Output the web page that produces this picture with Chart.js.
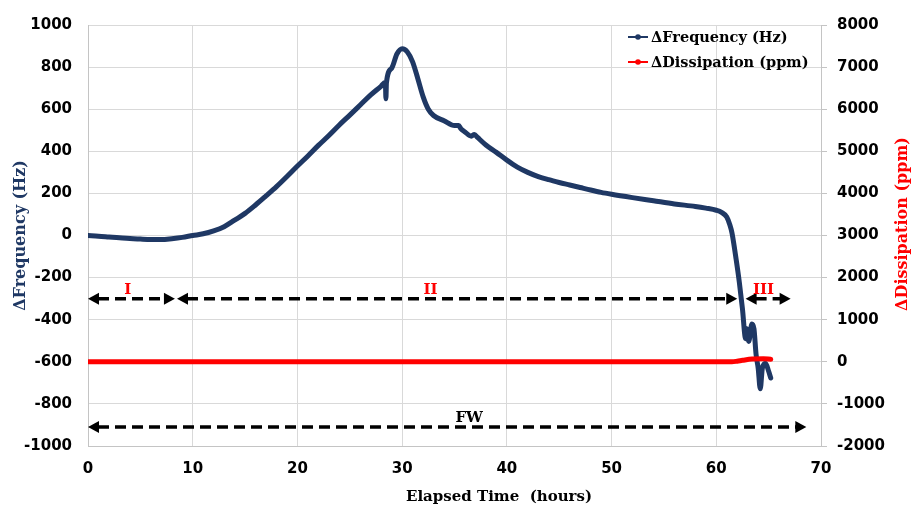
<!DOCTYPE html>
<html lang="en">
<head>
    <meta charset="UTF-8">
    <title>QCM Frequency and Dissipation</title>
    <script src="https://cdn.jsdelivr.net/npm/chart.js"></script>
    <style>
        html, body { margin: 0; padding: 0; background: #fff; }
        #wrap { width: 914px; height: 509px; }
    </style>
</head>
<body>
<div id="wrap"><canvas id="qcmChart" width="914" height="509"></canvas></div>
<script>
    // elapsed time (hours) and frequency shift (Hz)
    const timeH = [0, 1, 2, 3, 4, 5, 6, 7, 8, 9, 10, 11, 12, 13, 14, 15, 16, 17, 18, 19,
        20, 21, 22, 23, 24, 25, 26, 27, 28, 28.4, 28.45, 28.5, 29, 29.5, 30, 30.5, 31, 31.5,
        32, 32.5, 33, 34, 35, 35.4, 35.6, 36, 36.6, 36.9, 37.2, 38, 39, 40, 41, 42, 43, 44,
        45, 46, 47, 48, 49, 50, 52, 54, 56, 58, 59, 60, 60.5, 61, 61.3, 61.5, 61.9, 62.2,
        62.5, 62.8, 62.9, 63.1, 63.4, 63.6, 63.8, 64.0, 64.2, 64.4, 64.7, 65.0, 65.2];
    const freqHz = [0, -3, -7, -11, -14, -17, -19, -19, -15, -9, 0, 8, 22, 42, 73, 105, 145, 188, 232, 280,
        330, 378, 428, 475, 525, 572, 620, 668, 710, 728, 650, 726, 795, 862, 887, 872, 825, 745,
        660, 600, 570, 545, 522, 522, 508, 492, 472, 480, 466, 430, 395, 358, 325, 300, 280, 265,
        252, 240, 228, 216, 205, 196, 180, 165, 150, 138, 130, 120, 110, 88, 50, 12, -115, -222,
        -349, -490, -443, -503, -420, -443, -565, -630, -728, -630, -607, -645, -677];

    // dissipation shift (ppm)
    const dissTimeH = [0, 20, 40, 61.5, 62, 62.5, 63.4, 64.5, 65.2];
    const dissPpm = [0, 0, 0, 0, 15, 35, 65, 70, 60];

    // axis ranges
    const xRange = [0, 70, 10];
    const freqRange = [-1000, 1000, 200];
    const dissRange = [-2000, 8000, 1000];

    // stage annotations (hours)
    const phaseNames = ['I', 'II', 'III'];
    const phaseStart = [0, 8.5, 62.8];
    const phaseEnd = [8.3, 62.0, 67.1];
    const phaseLabelAt = [3.8, 32.7, 64.5];
    const phaseLevel = -300;
    const fwName = 'FW';
    const fwSpan = [0, 68.6];
    const fwLabelAt = 36.4;
    const fwLevel = -910;

    const navy = '#1F3864';
    const red = '#FF0000';
    const serif = "'DejaVu Serif', 'Bookman Old Style', serif";
    const sans = "'DejaVu Sans', Verdana, sans-serif";

    const freqPoints = timeH.map((t, i) => ({ x: t, y: freqHz[i] }));
    const dissPoints = dissTimeH.map((t, i) => ({ x: t, y: dissPpm[i] }));

    function drawArrow(ctx, x0, x1, y) {
        ctx.save();
        ctx.strokeStyle = '#000';
        ctx.fillStyle = '#000';
        ctx.lineWidth = 3.5;
        ctx.setLineDash([11, 6]);
        ctx.beginPath();
        ctx.moveTo(x0 + 10, y);
        ctx.lineTo(x1 - 10, y);
        ctx.stroke();
        ctx.setLineDash([]);
        [[x0, 1], [x1, -1]].forEach(([x, d]) => {
            ctx.beginPath();
            ctx.moveTo(x, y);
            ctx.lineTo(x + d * 11, y - 6);
            ctx.lineTo(x + d * 11, y + 6);
            ctx.closePath();
            ctx.fill();
        });
        ctx.restore();
    }

    const stagePlugin = {
        id: 'stages',
        afterDatasetsDraw(chart) {
            const ctx = chart.ctx;
            const xs = chart.scales.x;
            const ys = chart.scales.yLeft;
            const yPhase = ys.getPixelForValue(phaseLevel);
            phaseNames.forEach((name, i) => {
                drawArrow(ctx, xs.getPixelForValue(phaseStart[i]), xs.getPixelForValue(phaseEnd[i]), yPhase);
            });
            const yFw = ys.getPixelForValue(fwLevel);
            drawArrow(ctx, xs.getPixelForValue(fwSpan[0]), xs.getPixelForValue(fwSpan[1]), yFw);

            ctx.save();
            ctx.font = 'bold 15px ' + serif;
            ctx.textAlign = 'center';
            ctx.textBaseline = 'alphabetic';
            ctx.fillStyle = red;
            phaseNames.forEach((name, i) => {
                ctx.fillText(name, xs.getPixelForValue(phaseLabelAt[i]), yPhase - 5);
            });
            ctx.fillStyle = '#000';
            ctx.fillText(fwName, xs.getPixelForValue(fwLabelAt), yFw - 5);
            ctx.restore();
        }
    };

    // legend (line + dot), right axis title reading upwards and the x title, placed like the original
    const decorPlugin = {
        id: 'decor',
        afterDraw(chart) {
            const ctx = chart.ctx;
            const items = [
                { text: '\u0394Frequency (Hz)', color: navy, y: 37 },
                { text: '\u0394Dissipation (ppm)', color: red, y: 62 }
            ];
            ctx.save();
            items.forEach(item => {
                ctx.strokeStyle = item.color;
                ctx.fillStyle = item.color;
                ctx.lineWidth = 2;
                ctx.beginPath();
                ctx.moveTo(628, item.y);
                ctx.lineTo(648, item.y);
                ctx.stroke();
                ctx.beginPath();
                ctx.arc(638, item.y, 2.8, 0, Math.PI * 2);
                ctx.fill();
                ctx.fillStyle = '#000';
                ctx.font = 'bold 14.5px ' + serif;
                ctx.textAlign = 'left';
                ctx.textBaseline = 'middle';
                ctx.fillText(item.text, 651, item.y + 1);
            });

            ctx.font = 'bold 15px ' + serif;
            ctx.fillStyle = '#000';
            ctx.textAlign = 'center';
            ctx.textBaseline = 'middle';
            ctx.fillText('Elapsed Time  (hours)', 499, 497);

            ctx.translate(903, 224);
            ctx.rotate(-Math.PI / 2);
            ctx.font = 'bold 16px ' + serif;
            ctx.fillStyle = red;
            ctx.fillText('\u0394Dissipation (ppm)', 0, 0);
            ctx.restore();
        }
    };

    const tickFont = { family: sans, size: 15, weight: 'bold' };
    const plainLabel = v => String(v);
    const gridColor = '#d9d9d9';
    const axisColor = '#c4c4c4';

    new Chart(document.getElementById('qcmChart').getContext('2d'), {
        type: 'line',
        data: {
            datasets: [
                {
                    label: '\u0394Frequency (Hz)',
                    data: freqPoints,
                    yAxisID: 'yLeft',
                    borderColor: navy,
                    backgroundColor: navy,
                    borderWidth: 5,
                    pointRadius: 0,
                    cubicInterpolationMode: 'monotone',
                    borderCapStyle: 'round',
                    borderJoinStyle: 'round',
                    order: 2
                },
                {
                    label: '\u0394Dissipation (ppm)',
                    data: dissPoints,
                    yAxisID: 'yRight',
                    borderColor: red,
                    backgroundColor: red,
                    borderWidth: 5,
                    pointRadius: 0,
                    cubicInterpolationMode: 'monotone',
                    borderCapStyle: 'round',
                    order: 1
                }
            ]
        },
        options: {
            responsive: false,
            animation: false,
            layout: { padding: { top: 19, left: 0, right: 0, bottom: 0 } },
            plugins: {
                legend: { display: false },
                tooltip: { enabled: false }
            },
            scales: {
                x: {
                    type: 'linear',
                    min: xRange[0],
                    max: xRange[1],
                    ticks: { stepSize: xRange[2], font: tickFont, color: '#000', padding: 14, callback: plainLabel },
                    grid: { color: gridColor, drawTicks: false },
                    border: { color: axisColor },
                    afterFit(scale) { scale.height = 63; }
                },
                yLeft: {
                    position: 'left',
                    min: freqRange[0],
                    max: freqRange[1],
                    ticks: { stepSize: freqRange[2], font: tickFont, color: '#000', padding: 16, callback: plainLabel },
                    grid: { color: gridColor, drawTicks: false },
                    border: { color: axisColor },
                    title: {
                        display: true,
                        text: '\u0394Frequency (Hz)',
                        color: navy,
                        font: { family: serif, size: 16, weight: 'bold' },
                        padding: { top: 11, bottom: 4 }
                    },
                    afterFit(scale) { scale.width = 88; }
                },
                yRight: {
                    position: 'right',
                    min: dissRange[0],
                    max: dissRange[1],
                    ticks: { stepSize: dissRange[2], font: tickFont, color: '#000', padding: 10, callback: plainLabel },
                    grid: { drawOnChartArea: false, color: axisColor, tickLength: 6 },
                    border: { color: axisColor },
                    afterFit(scale) { scale.width = 93; }
                }
            }
        },
        plugins: [stagePlugin, decorPlugin]
    });
</script>
</body>
</html>
